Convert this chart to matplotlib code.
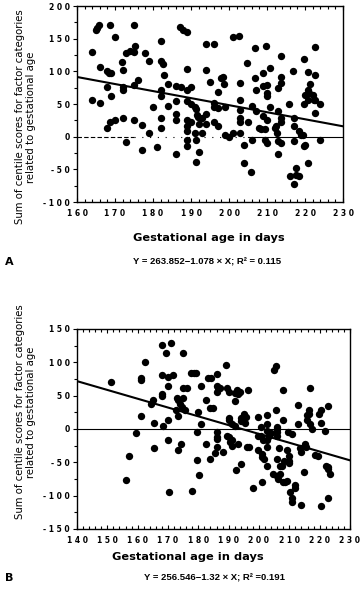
# Two scatter panels: centile score sum vs gestational age, with regression line
import matplotlib
matplotlib.use("Agg")
from matplotlib import pyplot as plt
from matplotlib.ticker import MultipleLocator, FuncFormatter
import numpy as np

# Datos panel A
age_a = [163.9, 164, 165, 165.3, 165.9, 166, 166, 168.8, 170, 168, 168, 168, 168.5, 169,
         169, 168.8, 170, 171.8, 172, 172, 172, 172, 173, 173, 174, 175, 175.2, 175, 175,
         175, 176, 177, 177, 178, 179, 179, 180, 181, 182, 182, 182.5, 182, 182, 182, 182,
         183, 184, 184, 186, 186, 186, 186, 186, 187, 188, 189, 187.4, 189, 189, 190, 189,
         190, 189, 190, 189, 189, 189, 189, 191, 191.4, 191.5, 191.8, 191, 191.3, 191.3,
         192, 192, 193, 193, 194, 194, 194, 194, 195, 196, 196, 196, 196, 197, 197, 197,
         198, 198.5, 198.8, 199, 199, 200, 201, 201, 202.7, 203, 203, 203, 203, 203, 203,
         204, 204, 204.7, 205, 205.7, 206, 206, 206.8, 206.8, 207, 207, 207.8, 208.4, 209,
         209, 209, 209.5, 209.5, 210, 210, 210, 209.7, 210, 210, 210.7, 210.7, 212, 212.3,
         212.5, 212.8, 213, 213, 213, 213.7, 213.7, 213.7, 213.7, 213.7, 213.7, 215.7, 216,
         216.8, 217, 217, 217, 217, 217.7, 217.7, 218.4, 218.4, 219, 219.5, 219.7, 220,
         219.7, 219.8, 220, 221, 220.7, 220.7, 220.7, 220.8, 221.4, 222, 222.3, 222.7,
         222.7, 222.7, 222.7, 224, 224]
score_a = [129, 56, 163, 167, 171, 106, 51, 171, 152, 13, 76, 100, 98, 97,
           63, 23, 26, 114, 102, 76, 71, 29, -8, 128, 131, 129, 139, 171, 79,
           25, 87, 18, -21, 128, 116, 6, 46, -16, 147, 116, 111, 72, 62, 28, 13,
           95, 80, 47, 78, 55, 35, 26, -26, 168, 164, 160, 76, 104, 72, 76, 54,
           50, 26, 23, 16, 8, -5, -15, 46, 42, 33, 30, 6, -5, -39,
           20, -23, 6, 28, 35, 20, 102, 142, 83, 142, 51, 46, 23, 17, 69, 44,
           90, 92, 81, 46, 3, 0, 6, 152, 154, 82, 56, 41, 28, 23, 6,
           -13, -40, 113, 22, -54, -5, 47, 90, 135, 39, 72, 13, 11, 97,
           78, 31, 11, -5, 79, 67, 62, 139, -10, 26, 105, 45, 13, 17,
           6, 74, 39, -7, -26, 123, 92, 82, 28, 23, -9, 50, -60,
           100, 28, 16, -7, -72, -48, -59, -60, 9, 2, 2, -14, -13,
           119, 50, 64, 67, 71, 56, 99, -40, 81, 64, 56, 137,
           95, 37, 56, 50, -5]
coef_a = (263.852, -1.078)
r2_a = 0.115

# Datos panel B
age_b = [151.2, 156.2, 157.1, 159.3, 161.1, 161, 161.2, 162.4, 164.3, 165.2, 165.4, 165.4,
         168, 169.2, 168, 168, 168.1, 168.3, 170.1, 170.1, 170.1, 170.1, 170.3, 171, 171.8,
         172.9, 173.2, 172.6, 173.2, 173.2, 174, 174.5, 174.2, 175, 175, 175, 175.6, 176.2,
         177.5, 178.6, 179.2, 178, 179.5, 179.5, 180, 180.3, 181, 181, 182.4, 182.4, 183.3,
         184.2, 184, 184.8, 184, 185.5, 186, 186.3, 186, 186.6, 186.3, 186.3, 186.3, 186.3,
         187, 188, 189.1, 189.3, 190, 189.3, 190, 190, 190, 190.6, 191, 191, 191.2, 192,
         192.6, 193, 193.7, 192, 192, 192.3, 193, 194, 194.2, 194.2, 195.2, 195.6, 195.4,
         196, 196.8, 196.4, 198.1, 199.8, 199.8, 199.8, 200.7, 200.8, 201, 201, 201.5, 201,
         201.4, 202.5, 202.5, 202.6, 202.6, 202.8, 202.8, 203.4, 203.8, 204.7, 205, 205.5,
         205.6, 205.8, 205.8, 206, 205.8, 205.8, 205.8, 206.4, 206.7, 207, 207.5, 207,
         207.8, 208, 208, 208.7, 209.2, 208.2, 209.3, 210, 210, 210, 209.5, 210.2, 210.9,
         211, 211, 212, 211.8, 213, 213, 213.5, 213.8, 213.9, 214.9, 215.1, 215.5, 215.7,
         215.7, 216.6, 216.6, 216.8, 216.8, 217.4, 218.6, 219.6, 219.8, 220.3, 220.4, 220.4,
         221.8, 222.2, 222.8, 222.9, 222.6, 223.4, 222.9]
score_b = [70, -76, -40, -6, 19, 76, 73, 100, 37, 43, 9, -28,
           126, 114, 81, 53, 50, 5, 78, 64, 13, -16, -94, 129, 81,
           46, 43, 28, 19, -32, 38, 33, -23, 114, 62, 47, 28, 61,
           84, 84, 84, -93, -5, -47, 26, -69, 65, 7, 44, -22, 77,
           76, 32, 32, -45, -36, -12, 83, 64, 61, 56, -4, -15, -27,
           62, -34, 96, 61, 56, -10, 17, 13, -12, -19, 8, -16, -26, 54,
           59, 52, 56, 42, 4, -62, -23, -53, 16, 12, 23, 18, 9,
           -27, -27, 58, -89, 18, -11, -31, 3, -10, -37, -42, -45, -80,
           -17, -3, -17, 8, 21, -27, -55, -11, -6, -68, 88, 94,
           29, 0, -4, 3, -10, -45, -70, -75, -28, -56, -55, -67,
           58, 14, -79, -80, -78, -48, -31, -41, -48, -51, -5, -94, -103,
           -110, -7, -89, -84, 8, 36, -28, -35, -114, -64, -22, -27, 21,
           13, 28, 22, 61, 8, 0, -39, -40, 23, 28, 9, -115,
           -3, -55, -57, 34, -103, -68, -60]
coef_b = (256.546, -1.32)
r2_b = 0.191

ylabel_txt = "Sum of centile scores for factor categories\nrelated to gestational age"
xlabel_txt = "Gestational age in days"


def spaced(v, pos):
    # etiquetas con los digitos separados, como en el original
    return " ".join(str(int(round(v))))


def panel(ax, ages, scores, coef, xlim, ylim, ymaj):
    ax.scatter(ages, scores, s=28, color="black", zorder=3, linewidths=0)
    xs = np.array(xlim)
    ax.plot(xs, coef[0] + coef[1] * xs, color="black", lw=1.5, zorder=2)
    ax.set_xlim(*xlim)
    ax.set_ylim(*ylim)
    ax.xaxis.set_major_locator(MultipleLocator(10))
    ax.xaxis.set_minor_locator(MultipleLocator(2))
    ax.yaxis.set_major_locator(MultipleLocator(ymaj))
    ax.yaxis.set_minor_locator(MultipleLocator(ymaj / 2))
    ax.xaxis.set_major_formatter(FuncFormatter(spaced))
    ax.yaxis.set_major_formatter(FuncFormatter(spaced))
    ax.tick_params(axis="x", which="both", direction="in", top=True, labelsize=5.5, pad=5)
    ax.tick_params(axis="y", which="both", direction="out", labelsize=5.5, pad=2)
    ax.tick_params(which="major", length=3, width=0.8)
    ax.tick_params(which="minor", length=2, width=0.8)
    for lab in ax.get_xticklabels() + ax.get_yticklabels():
        lab.set_fontweight("bold")
    for sp in ax.spines.values():
        sp.set_linewidth(1)


fig = plt.figure(figsize=(3.6, 5.89), dpi=100)

axA = fig.add_axes([0.2139, 0.657, 0.7389, 0.3328])
panel(axA, age_a, score_a, coef_a, (160, 230), (-100, 200), 50)
# linea del cero: discontinua, punteada y luego continua
axA.plot([160, 175], [0, 0], color="black", lw=0.8, ls=(0, (4, 2)), zorder=1)
axA.plot([175, 205], [0, 0], color="black", lw=0.8, ls=(0, (1, 6)), zorder=1)
axA.plot([205, 230], [0, 0], color="black", lw=0.8, zorder=1)

axB = fig.add_axes([0.2139, 0.1019, 0.7583, 0.3396])
panel(axB, age_b, score_b, coef_b, (140, 230), (-150, 150), 50)
axB.axhline(0, color="black", lw=0.8, zorder=1)

# Textos
for yc in [1 - 117 / 589, 1 - 412 / 589]:
    fig.text(0.07, yc, ylabel_txt, rotation=90, ha="center", va="center",
             fontsize=7.3, linespacing=1.15)
fig.text(0.58, 1 - 238 / 589, xlabel_txt, ha="center", va="center",
         fontsize=8.2, fontweight="bold")
fig.text(0.522, 1 - 557 / 589, xlabel_txt, ha="center", va="center",
         fontsize=8.2, fontweight="bold")

eq_a = "Y = %.3f\u2212%.3f \u00d7 X; R\u00b2 = %.3f" % (coef_a[0], -coef_a[1], r2_a)
eq_b = "Y = %.3f\u2212%.2f \u00d7 X; R\u00b2 =%.3f" % (coef_b[0], -coef_b[1], r2_b)
fig.text(207 / 360, 1 - 262 / 589, eq_a, ha="center", va="center",
         fontsize=6.8, fontweight="bold", family="Liberation Sans")
fig.text(214 / 360, 1 - 578 / 589, eq_b, ha="center", va="center",
         fontsize=6.8, fontweight="bold", family="Liberation Sans")
fig.text(0.015, 1 - 262 / 589, "A", ha="left", va="center", fontsize=8, fontweight="bold")
fig.text(0.015, 1 - 578 / 589, "B", ha="left", va="center", fontsize=8, fontweight="bold")

fig.savefig("out.png", dpi=100)
